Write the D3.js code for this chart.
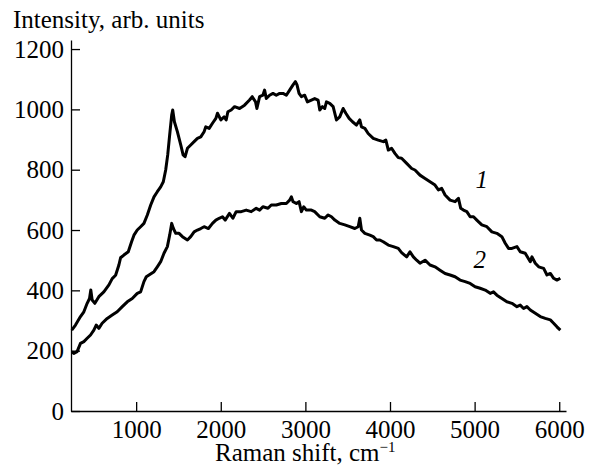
<!DOCTYPE html>
<html>
<head>
<meta charset="utf-8">
<script src="https://cdn.jsdelivr.net/npm/d3@7"></script>
<style>
  body { margin: 0; background: #fff; }
  svg text { font-family: "Liberation Serif", "Times New Roman", serif; fill: #000; }
</style>
</head>
<body>
<svg id="chart" width="594" height="466"></svg>
<script>
// curve 1 (upper spectrum)
const ramanShift1 = [239, 283, 342, 382, 421, 449, 464, 480, 512, 559, 618, 678, 717, 757, 796, 816, 855, 907, 946, 974,
  1013, 1053, 1092, 1132, 1172, 1211, 1250, 1290, 1321, 1349, 1373, 1396, 1420, 1432, 1452, 1487, 1527, 1555, 1578, 1606,
  1645, 1685, 1724, 1764, 1803, 1823, 1863, 1902, 1942, 1961, 2001, 2040, 2064, 2084, 2123, 2163, 2222, 2281, 2340, 2372,
  2411, 2427, 2459, 2498, 2518, 2538, 2577, 2617, 2656, 2696, 2736, 2775, 2814, 2854, 2882, 2901, 2925, 2953, 2992, 3024,
  3071, 3110, 3150, 3170, 3201, 3229, 3249, 3288, 3328, 3367, 3406, 3446, 3478, 3517, 3557, 3604, 3643, 3663, 3703, 3742,
  3802, 3861, 3920, 3951, 3980, 4019, 4058, 4098, 4137, 4197, 4256, 4295, 4354, 4414, 4473, 4532, 4572, 4611, 4651, 4710,
  4769, 4809, 4836, 4868, 4908, 4947, 4987, 5026, 5085, 5145, 5204, 5263, 5322, 5362, 5401, 5441, 5500, 5539, 5598, 5658,
  5678, 5717, 5757, 5816, 5855, 5895, 5934, 5973, 6013];
const intensity1 = [268, 285, 313, 329, 357, 373, 401, 368, 357, 379, 395, 418, 439, 450, 484, 508, 517, 528, 561, 583,
  600, 611, 622, 650, 683, 710, 727, 743, 760, 799, 849, 915, 981, 998, 959, 926, 882, 849, 843, 871,
  882, 893, 904, 909, 926, 942, 937, 954, 970, 987, 965, 975, 965, 992, 998, 1009, 1003, 1014, 1031, 1042,
  1025, 1003, 1042, 1047, 1064, 1036, 1047, 1053, 1047, 1053, 1053, 1047, 1064, 1081, 1092, 1081, 1053, 1042, 1047, 1025,
  1031, 1036, 1031, 998, 1009, 1003, 1025, 1020, 1009, 965, 975, 1003, 987, 970, 959, 948, 965, 942, 937, 920,
  904, 898, 893, 898, 865, 871, 854, 840, 838, 821, 804, 799, 782, 771, 760, 749, 733, 738, 716, 699,
  694, 705, 672, 666, 661, 644, 644, 633, 617, 611, 594, 589, 578, 556, 539, 539, 545, 528, 523, 495,
  511, 490, 478, 473, 451, 456, 440, 434, 440];

// curve 2 (lower spectrum)
const ramanShift2 = [240, 263, 302, 342, 382, 421, 461, 500, 528, 559, 598, 658, 717, 776, 836, 895, 954, 1013, 1053, 1092,
  1120, 1152, 1211, 1250, 1290, 1329, 1369, 1396, 1420, 1440, 1468, 1507, 1547, 1606, 1645, 1685, 1724, 1764, 1803, 1854,
  1902, 1942, 1981, 2020, 2052, 2103, 2143, 2182, 2242, 2301, 2360, 2419, 2459, 2498, 2558, 2597, 2656, 2716, 2775, 2814,
  2834, 2854, 2893, 2925, 2953, 2980, 3012, 3071, 3110, 3170, 3229, 3269, 3308, 3348, 3406, 3466, 3525, 3584, 3624, 3643,
  3663, 3703, 3762, 3802, 3841, 3880, 3920, 3980, 4039, 4098, 4137, 4197, 4236, 4276, 4315, 4354, 4414, 4473, 4532, 4591,
  4651, 4710, 4769, 4828, 4888, 4947, 5006, 5065, 5125, 5184, 5223, 5263, 5322, 5381, 5441, 5500, 5539, 5579, 5618, 5658,
  5717, 5776, 5835, 5895, 5934, 5973, 6013];
const intensity2 = [197, 191, 197, 224, 230, 241, 252, 268, 285, 274, 291, 307, 318, 329, 346, 362, 373, 390, 395, 429,
  445, 451, 462, 478, 495, 523, 545, 583, 622, 605, 589, 589, 578, 567, 578, 594, 600, 605, 611, 605,
  622, 633, 639, 644, 633, 655, 639, 661, 661, 666, 661, 672, 666, 677, 672, 683, 683, 688, 688, 699,
  710, 694, 688, 694, 661, 677, 666, 666, 661, 644, 639, 650, 644, 633, 622, 617, 611, 605, 611, 639,
  600, 589, 583, 578, 567, 567, 561, 550, 545, 539, 525, 511, 528, 511, 500, 490, 500, 484, 478, 467,
  456, 451, 445, 434, 429, 423, 412, 407, 401, 390, 395, 384, 373, 362, 357, 346, 351, 340, 346, 335,
  324, 313, 307, 302, 291, 279, 268];

const xTicks = [1000, 2000, 3000, 4000, 5000, 6000];
const yTicks = [0, 200, 400, 600, 800, 1000, 1200];
const curveLabels = [
  { text: "1", shift: 5085, value: 740 },
  { text: "2", shift: 5060, value: 474 }
];

const svg = d3.select("#chart");
const plotLeft = 71, plotRight = 566, plotTop = 40, plotBottom = 411;

const x = d3.scaleLinear().domain([230, 6080]).range([plotLeft, plotRight]);
const y = d3.scaleLinear().domain([0, 1230]).range([plotBottom, plotTop]);

// axes
const xAxis = svg.append("g")
  .attr("transform", `translate(0,${plotBottom})`)
  .call(d3.axisBottom(x).tickValues(xTicks).tickFormat(d3.format("d")).tickSize(-9).tickSizeOuter(0).tickPadding(9));
const yAxis = svg.append("g")
  .attr("transform", `translate(${plotLeft},0)`)
  .call(d3.axisLeft(y).tickValues(yTicks).tickFormat(d3.format("d")).tickSize(-9).tickSizeOuter(0).tickPadding(7));

[xAxis, yAxis].forEach(g => {
  g.select(".domain").attr("stroke", "#000").attr("stroke-width", 1.3);
  g.selectAll(".tick line").attr("stroke", "#000").attr("stroke-width", 1.3);
  g.selectAll(".tick text").attr("font-size", 25).attr("font-family", "Liberation Serif, serif").attr("fill", "#000");
});

// spectra
const line = d3.line().x(d => x(d[0])).y(d => y(d[1]));
const series = [d3.zip(ramanShift1, intensity1), d3.zip(ramanShift2, intensity2)];
svg.selectAll(".spectrum")
  .data(series)
  .enter()
  .append("path")
  .attr("class", "spectrum")
  .attr("d", line)
  .attr("fill", "none")
  .attr("stroke", "#000")
  .attr("stroke-width", 3)
  .attr("stroke-linejoin", "round");

// curve numbers
svg.selectAll(".curve-label")
  .data(curveLabels)
  .enter()
  .append("text")
  .attr("x", d => x(d.shift))
  .attr("y", d => y(d.value))
  .attr("text-anchor", "middle")
  .attr("font-size", 25)
  .attr("font-style", "italic")
  .text(d => d.text);

// axis titles
svg.append("text")
  .attr("x", 13).attr("y", 28)
  .attr("font-size", 25)
  .text("Intensity, arb. units");

const xTitle = svg.append("text")
  .attr("x", 215).attr("y", 461)
  .attr("font-size", 25);
xTitle.append("tspan").text("Raman shift, cm");
xTitle.append("tspan").attr("font-size", 15).attr("dy", -9).text("\u22121");
</script>
</body>
</html>
